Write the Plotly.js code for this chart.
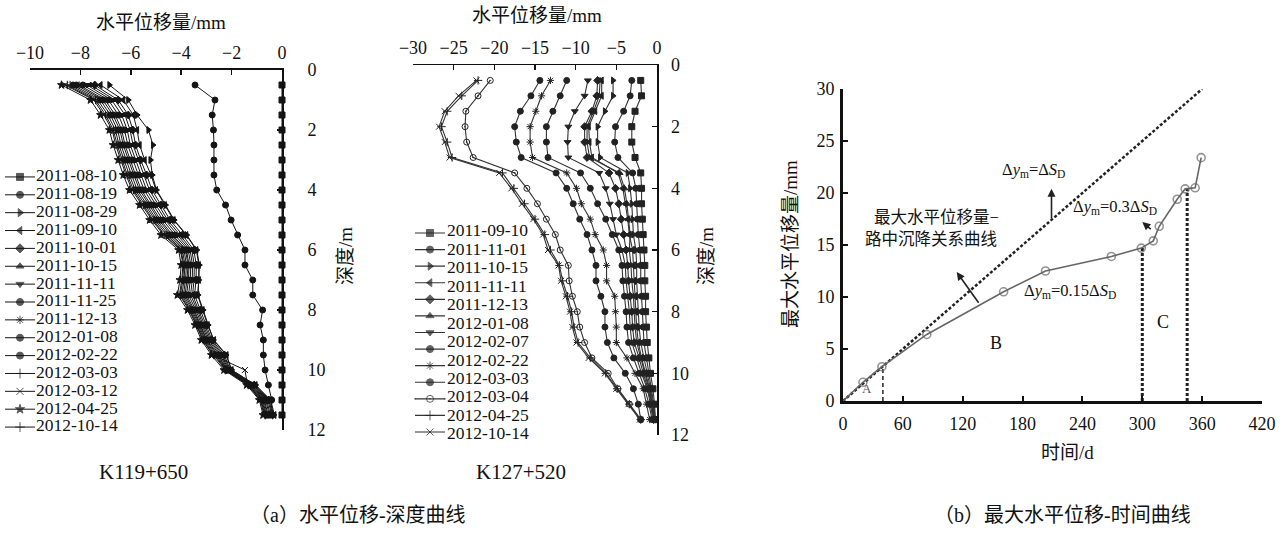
<!DOCTYPE html>
<html>
<head>
<meta charset="utf-8">
<script src="https://cdn.plot.ly/plotly-3.0.1.min.js"></script>
<style>html,body{margin:0;padding:0;background:#fff}#chart{width:1288px;height:533px}</style>
</head>
<body>
<div id="chart"></div>
<script>
// ---------------- DATA ----------------
const depths = [0.5,1,1.5,2,2.5,3,3.5,4,4.5,5,5.5,6,6.5,7,7.5,8,8.5,9,9.5,10,10.5,11,11.5];

// (a) K119+650 : horizontal displacement (mm) at each depth
const leftNames = ['2011-08-10','2011-08-19','2011-08-29','2011-09-10','2011-10-01','2011-10-15','2011-11-11','2011-11-25','2011-12-13','2012-01-08','2012-02-22','2012-03-03','2012-03-12','2012-04-25','2012-10-14'];
const leftSymbols = ['square','circle','triangle-right','triangle-left','diamond','triangle-up','triangle-down','circle','asterisk-open','circle','circle','cross-thin-open','x-thin-open','star','cross-thin-open'];
const L0810 = [0,0,0,0,0,0,0,0,0,0,0,0,0,0,0,0,0,0,0,0,0,0,0];
const L0819 = [-3.45,-2.66,-2.77,-2.72,-2.70,-2.70,-2.70,-2.59,-2.24,-2.02,-1.76,-1.47,-1.47,-1.16,-1.16,-0.77,-0.87,-0.74,-0.74,-0.67,-0.54,-0.41,-0.45];
const L0829 = [-6.85,-6.1,-5.75,-5.3,-5.12,-5.22,-5.15,-4.98,-4.62,-4.28,-3.78,-3.38,-3.28,-3.3,-3.33,-3.13,-2.93,-2.72,-2.22,-2.0,-1.05,-0.48,-0.33];
const L0910 = [-7.2,-6.3,-5.9,-5.75,-5.65,-5.45,-5.2,-5.0,-4.65,-4.3,-3.8,-3.4,-3.3,-3.3,-3.35,-3.15,-2.95,-2.7,-2.2,-2.0,-1.05,-0.45,-0.3];
const L1001 = [-7.43,-6.5,-6.1,-5.92,-5.81,-5.61,-5.37,-5.16,-4.8,-4.44,-3.95,-3.5,-3.4,-3.41,-3.47,-3.24,-3.03,-2.78,-2.29,-2.05,-1.1,-0.52,-0.37];
const L1015 = [-7.59,-6.63,-6.23,-6.03,-5.91,-5.71,-5.48,-5.26,-4.9,-4.54,-4.05,-3.58,-3.48,-3.49,-3.55,-3.3,-3.08,-2.83,-2.35,-2.08,-1.14,-0.56,-0.41];
const L1111 = [-7.74,-6.76,-6.36,-6.14,-6.02,-5.82,-5.59,-5.37,-5.0,-4.63,-4.15,-3.65,-3.55,-3.56,-3.63,-3.36,-3.13,-2.88,-2.41,-2.11,-1.17,-0.61,-0.46];
const L1125 = [-7.9,-6.89,-6.49,-6.25,-6.12,-5.92,-5.7,-5.47,-5.1,-4.73,-4.25,-3.72,-3.62,-3.64,-3.71,-3.42,-3.18,-2.93,-2.47,-2.14,-1.21,-0.65,-0.5];
const L1213 = [-8.05,-7.02,-6.62,-6.36,-6.23,-6.03,-5.81,-5.58,-5.2,-4.82,-4.35,-3.79,-3.69,-3.71,-3.79,-3.48,-3.23,-2.98,-2.53,-2.17,-1.24,-0.7,-0.55];
const L0108 = [-8.16,-7.11,-6.71,-6.43,-6.3,-6.1,-5.88,-5.65,-5.27,-4.89,-4.42,-3.83,-3.73,-3.77,-3.85,-3.52,-3.26,-3.01,-2.57,-2.19,-1.27,-0.73,-0.58];
const L0222 = [-8.29,-7.21,-6.81,-6.52,-6.39,-6.19,-5.97,-5.74,-5.35,-4.97,-4.5,-3.89,-3.79,-3.83,-3.91,-3.57,-3.3,-3.05,-2.62,-2.21,-1.3,-0.77,-0.62];
const L0303 = [-8.41,-7.31,-6.91,-6.61,-6.47,-6.27,-6.06,-5.82,-5.43,-5.04,-4.58,-3.95,-3.85,-3.89,-3.97,-3.62,-3.34,-3.09,-2.67,-2.23,-1.32,-0.8,-0.65];
const L0312 = [-8.6,-7.47,-7.07,-6.74,-6.6,-6.4,-6.19,-5.95,-5.55,-5.16,-4.7,-4.03,-3.93,-3.98,-4.07,-3.69,-3.4,-3.15,-2.74,-1.47,-1.37,-0.86,-0.71];
const L0425 = [-8.75,-7.6,-7.2,-6.85,-6.7,-6.5,-6.3,-6.05,-5.65,-5.25,-4.8,-4.1,-4.0,-4.05,-4.15,-3.75,-3.45,-3.2,-2.8,-2.3,-1.4,-0.9,-0.75];
const L1014 = [-8.52,-7.4,-7.0,-6.69,-6.54,-6.34,-6.14,-5.89,-5.5,-5.11,-4.65,-4.0,-3.9,-3.94,-4.03,-3.66,-3.38,-3.13,-2.71,-2.26,-1.35,-0.83,-0.68];
const leftSeries = [L0810,L0819,L0829,L0910,L1001,L1015,L1111,L1125,L1213,L0108,L0222,L0303,L0312,L0425,L1014];

// (a) K127+520 : 13 marker rows in the legend, 12 date labels
const midLabels = ['2011-09-10','2011-11-01','2011-10-15','2011-11-11','2011-12-13','2012-01-08','2012-02-07','2012-02-22','2012-03-03','2012-03-04','2012-04-25','2012-10-14'];
const midSymbols = ['square','circle','triangle-right','triangle-left','diamond','triangle-up','triangle-down','circle','asterisk-open','circle','circle-open-dot','cross-thin-open','x-thin-open'];
const M0910 = [-2.0,-1.9,-2.7,-3.1,-3.1,-2.7,-2.0,-1.9,-1.9,-1.8,-1.7,-1.6,-1.5,-1.5,-1.4,-1.4,-1.3,-1.2,-1.0,-0.8,-0.5,-0.3,-0.2];
const M1101 = [-3.1,-3.3,-4.1,-5.1,-5.2,-4.8,-3.0,-2.6,-2.5,-2.4,-2.3,-2.1,-2.0,-2.0,-1.9,-1.8,-1.7,-1.6,-1.3,-1.0,-0.7,-0.4,-0.2];
const M1015 = [-5.4,-5.4,-6.4,-7.3,-7.3,-7.0,-3.6,-3.3,-3.1,-3.0,-2.9,-2.6,-2.5,-2.5,-2.4,-2.3,-2.2,-2.0,-1.6,-1.2,-0.8,-0.5,-0.3];
const M1111 = [-6.8,-6.8,-7.6,-8.4,-8.3,-8.0,-4.8,-4.2,-3.9,-3.6,-3.4,-3.0,-2.9,-2.8,-2.7,-2.6,-2.5,-2.3,-1.9,-1.4,-0.9,-0.6,-0.3];
const M1213 = [-7.3,-7.4,-8.0,-8.9,-8.9,-8.6,-5.9,-5.1,-4.7,-4.4,-4.1,-3.8,-3.6,-3.5,-3.3,-3.1,-3.0,-2.8,-2.2,-1.7,-1.1,-0.7,-0.4];
const M0108 = [-7.0,-7.1,-7.8,-8.6,-8.6,-8.3,-4.6,-4.0,-3.7,-3.5,-3.3,-3.4,-3.2,-3.1,-2.9,-2.8,-2.7,-2.5,-2.0,-1.5,-1.0,-0.6,-0.4];
const M0207 = [-8.5,-8.9,-10.1,-10.9,-11.0,-10.9,-7.1,-6.3,-5.8,-5.4,-5.0,-4.3,-3.9,-3.8,-3.6,-3.4,-3.3,-3.1,-2.5,-1.9,-1.2,-0.8,-0.5];
const M0222 = [-11.1,-11.9,-12.8,-13.6,-13.6,-13.4,-9.4,-8.2,-7.3,-6.3,-5.5,-4.7,-4.3,-4.2,-4.0,-3.8,-3.7,-3.5,-2.9,-2.2,-1.5,-1.0,-0.6];
const M0222b = [-13.1,-14.2,-14.9,-15.6,-15.6,-15.3,-11.1,-9.9,-9.3,-8.2,-7.6,-6.6,-6.2,-6.2,-5.2,-5.1,-5.0,-5.0,-3.7,-2.7,-1.7,-1.3,-0.9];
const M0303 = [-14.4,-15.5,-16.8,-17.5,-17.3,-16.7,-12.4,-11.1,-10.3,-9.5,-8.6,-8.0,-7.5,-7.5,-6.9,-6.4,-6.4,-6.1,-5.3,-3.9,-2.9,-2.3,-2.0];
const M0304 = [-20.5,-22.0,-23.5,-23.6,-23.4,-22.6,-17.5,-16.0,-14.7,-13.6,-12.5,-11.9,-10.9,-10.8,-10.4,-9.8,-9.5,-8.9,-8.0,-6.0,-4.8,-3.4,-2.0];
const M0425 = [-22.0,-24.0,-25.8,-26.5,-25.8,-25.2,-19.0,-17.6,-16.3,-15.0,-13.8,-13.1,-12.0,-11.6,-11.0,-10.5,-10.2,-9.7,-8.2,-6.3,-4.9,-3.4,-2.0];
const M1014 = [-22.2,-24.4,-26.1,-26.8,-26.1,-25.5,-19.4,-17.9,-16.6,-15.2,-14.0,-13.4,-12.1,-11.8,-11.2,-10.7,-10.4,-9.9,-8.4,-6.4,-5.0,-3.5,-2.1];
const midSeries = [M0910,M1101,M1015,M1111,M1213,M0108,M0207,M0222,M0222b,M0303,M0304,M0425,M1014];

// (b) max horizontal displacement vs time
const timeDays = [0,20,39,84,161,203,269,299,311,317,335,343,353,359];
const maxDisp  = [0,1.8,3.3,6.4,10.5,12.5,13.9,14.7,15.4,16.8,19.4,20.4,20.5,23.4];
const refLineT = [0,360];          // Δy_m = ΔS_D reference line
const refLineY = [0,30];
const guideT   = [40,300,345];     // stage boundaries
const guideTop = [3.3,14.7,20.4];

// ---------------- HELPERS ----------------
const W = 1288, H = 533;
const fx = p => p / W;
const fy = p => 1 - p / H;
const FONT = "'Liberation Serif', 'Noto Sans CJK SC', serif";
const INK = '#111';
const tf = s => ({family: FONT, size: s, color: INK});

const traces = [];

// left panel
leftSeries.forEach((vals, i) => {
  traces.push({type:'scatter', mode:'lines+markers', x: vals, y: depths, xaxis:'x', yaxis:'y',
    line:{color:'#151515', width:1}, cliponaxis:false, showlegend:false, name: leftNames[i],
    marker:{symbol:leftSymbols[i], size:6, color:'#151515', line:{color:'#151515', width:1}}});
});
// middle panel
midSeries.forEach((vals, i) => {
  traces.push({type:'scatter', mode:'lines+markers', x: vals, y: depths, xaxis:'x2', yaxis:'y2',
    line:{color:'#333', width:1.1}, cliponaxis:false, showlegend:false,
    marker:{symbol:midSymbols[i], size:6, color:'#222', line:{color:'#222', width:1}}});
});
// right panel
traces.push({type:'scatter', mode:'lines', x: refLineT, y: refLineY, xaxis:'x3', yaxis:'y3',
  line:{color:'#222', width:2.5, dash:'3px,2px'}, showlegend:false});
guideT.forEach((t, i) => {
  traces.push({type:'scatter', mode:'lines', x:[t,t], y:[0, guideTop[i]], xaxis:'x3', yaxis:'y3',
    line:{color:'#222', width: i === 0 ? 1.5 : 3, dash: i === 0 ? '4px,3px' : '3px,2px'}, showlegend:false});
});
traces.push({type:'scatter', mode:'lines+markers', x: timeDays, y: maxDisp, xaxis:'x3', yaxis:'y3',
  line:{color:'#666', width:1.6}, cliponaxis:false, showlegend:false,
  marker:{symbol:'circle-open', size: timeDays.map(t => t === 0 ? 0 : 8), color:'#666', line:{width:1.6}}});

// custom legend (left)
const SW = [0, 15, 30];
leftNames.forEach((n, i) => {
  traces.push({type:'scatter', mode:'lines+markers', x: SW, y: SW.map(() => i), xaxis:'x4', yaxis:'y4',
    line:{color:'#151515', width:1}, cliponaxis:false, showlegend:false, hoverinfo:'skip',
    marker:{symbol:leftSymbols[i], size:[0,7,0], color:'#151515', line:{color:'#151515', width:1}}});
});
traces.push({type:'scatter', mode:'text', x: leftNames.map(() => 31), y: leftNames.map((n, i) => i),
  text: leftNames, textposition:'middle right', textfont: tf(17.5), xaxis:'x4', yaxis:'y4', cliponaxis:false, showlegend:false});

// custom legend (middle)
midSymbols.forEach((s, i) => {
  traces.push({type:'scatter', mode:'lines+markers', x: SW, y: SW.map(() => i), xaxis:'x5', yaxis:'y5',
    line:{color:'#333', width:1.1}, cliponaxis:false, showlegend:false, hoverinfo:'skip',
    marker:{symbol:s, size:[0,7,0], color:'#222', line:{color:'#222', width:1}}});
});
traces.push({type:'scatter', mode:'text', x: midLabels.map(() => 32), y: midLabels.map((n, i) => i),
  text: midLabels, textposition:'middle right', textfont: tf(17.5), xaxis:'x5', yaxis:'y6', cliponaxis:false, showlegend:false});

// ---------------- LAYOUT ----------------
const axBase = {showgrid:false, zeroline:false, showline:true, linecolor:INK, ticks:'inside',
  tickcolor:INK, tickfont: tf(18), fixedrange:true, autorange:false};

const pa = (px, py, text, size, extra) => Object.assign({xref:'paper', yref:'paper', x:fx(px), y:fy(py),
  xanchor:'center', yanchor:'middle', text:text, showarrow:false, font:tf(size)}, extra || {});

const layout = {
  width: W, height: H, margin:{l:0, r:0, t:0, b:0},
  paper_bgcolor:'#fff', plot_bgcolor:'rgba(0,0,0,0)', showlegend:false,
  font:{family: FONT, color: INK},
  xaxis: Object.assign({}, axBase, {domain:[fx(30), fx(282)], range:[-10,0], dtick:2, tick0:0, side:'top', anchor:'y', linewidth:2, ticklen:5, tickwidth:1.5, ticklabelstandoff:2}),
  yaxis: Object.assign({}, axBase, {domain:[fy(430), fy(70)], range:[12,0], dtick:2, tick0:0, side:'right', anchor:'x', linewidth:2, ticklen:5, tickwidth:1.5, ticklabelstandoff:20}),
  xaxis2: Object.assign({}, axBase, {domain:[fx(413), fx(657)], range:[-30,0], dtick:5, tick0:0, side:'top', anchor:'y2', linewidth:1.5, ticklen:5, tickwidth:1.5, ticklabelstandoff:2}),
  yaxis2: Object.assign({}, axBase, {domain:[fy(435), fy(65)], range:[12,0], dtick:2, tick0:0, side:'right', anchor:'x2', linewidth:1.5, ticklen:5, tickwidth:1.5, ticklabelstandoff:9}),
  xaxis3: Object.assign({}, axBase, {domain:[fx(843), fx(1262)], range:[0,420], dtick:60, tick0:0, side:'bottom', anchor:'y3', linewidth:3, ticklen:5, tickwidth:2, ticklabelstandoff:4}),
  yaxis3: Object.assign({}, axBase, {domain:[fy(401), fy(89)], range:[0,30], dtick:5, tick0:0, side:'left', anchor:'x3', linewidth:3, ticklen:5, tickwidth:2, ticklabelstandoff:2}),
  xaxis4: {domain:[fx(5), fx(125)], range:[0,120], visible:false, anchor:'y4', fixedrange:true},
  yaxis4: {domain:[fy(436), fy(168)], range:[14.5,-0.5], visible:false, anchor:'x4', fixedrange:true},
  xaxis5: {domain:[fx(415), fx(540)], range:[0,125], visible:false, anchor:'y5', fixedrange:true},
  yaxis5: {domain:[fy(440.3), fy(224.7)], range:[12.5,-0.5], visible:false, anchor:'x5', fixedrange:true},
  yaxis6: {domain:[fy(444.2), fy(222.8)], range:[11.5,-0.5], visible:false, anchor:'x5', fixedrange:true},
  annotations: [
    pa(161, 23, '水平位移量/mm', 19),
    pa(537, 16, '水平位移量/mm', 19),
    pa(345, 256, '深度/m', 19, {textangle:-90}),
    pa(706, 256, '深度/m', 19, {textangle:-90}),
    pa(790, 244, '最大水平位移量/mm', 19, {textangle:-90}),
    pa(1067, 452, '时间/d', 19),
    pa(143, 472, 'K119+650', 21),
    pa(521, 472, 'K127+520', 21),
    pa(358, 515, '（a）水平位移-深度曲线', 20),
    pa(1062, 515, '（b）最大水平位移-时间曲线', 20),
    {xref:'x3', yref:'y3', x:157, y:22.2, xanchor:'left', yanchor:'middle', text:'Δ<i>y</i><sub>m</sub>=Δ<i>S</i><sub>D</sub>', showarrow:false, font:tf(16.5)},
    {xref:'x3', yref:'y3', x:229, y:18.65, xanchor:'left', yanchor:'middle', text:'Δ<i>y</i><sub>m</sub>=0.3Δ<i>S</i><sub>D</sub>', showarrow:false, font:tf(16.5)},
    {xref:'x3', yref:'y3', x:179, y:10.6, xanchor:'left', yanchor:'middle', text:'Δ<i>y</i><sub>m</sub>=0.15Δ<i>S</i><sub>D</sub>', showarrow:false, font:tf(16.5)},
    {xref:'x3', yref:'y3', x:29, y:17.6, xanchor:'left', yanchor:'middle', text:'最大水平位移量−', showarrow:false, font:tf(16.5)},
    {xref:'x3', yref:'y3', x:20, y:15.5, xanchor:'left', yanchor:'middle', text:'路中沉降关系曲线', showarrow:false, font:tf(16.5)},
    {xref:'x3', yref:'y3', x:153, y:5.6, xanchor:'center', yanchor:'middle', text:'B', showarrow:false, font:tf(18)},
    {xref:'x3', yref:'y3', x:321, y:7.6, xanchor:'center', yanchor:'middle', text:'C', showarrow:false, font:tf(18)},
    {xref:'x3', yref:'y3', x:24, y:1.2, xanchor:'center', yanchor:'middle', text:'A', showarrow:false, font:{family:FONT, size:13, color:'#556'}},
    {xref:'x3', yref:'y3', axref:'x3', ayref:'y3', x:209, y:20.4, ax:209, ay:17.4, text:'', showarrow:true, arrowhead:2, arrowsize:1, arrowwidth:1.6, arrowcolor:'#222'},
    {xref:'x3', yref:'y3', axref:'x3', ayref:'y3', x:114, y:12.4, ax:137, ay:9.3, text:'', showarrow:true, arrowhead:2, arrowsize:1, arrowwidth:1.6, arrowcolor:'#222'},
    {xref:'x3', yref:'y3', axref:'x3', ayref:'y3', x:300, y:17.2, ax:310, ay:16.4, text:'', showarrow:true, arrowhead:2, arrowsize:1, arrowwidth:1.6, arrowcolor:'#222'}
  ]
};

Plotly.newPlot('chart', traces, layout, {staticPlot:true, displayModeBar:false});
</script>
</body>
</html>
